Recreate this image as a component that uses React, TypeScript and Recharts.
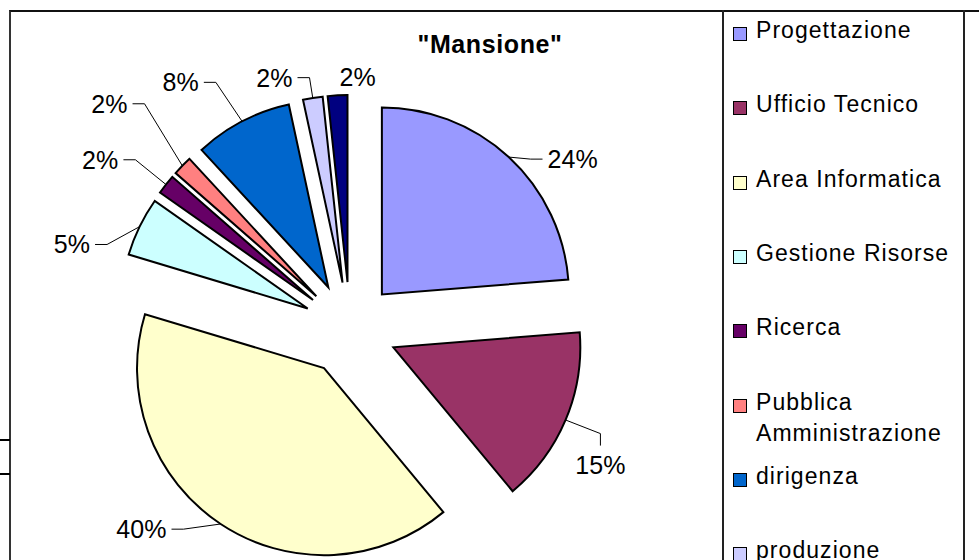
import React from 'react';
import { PieChart, Pie, Cell, Legend } from 'recharts';

// ---- data ----
const categories = [
  'Progettazione',
  'Ufficio Tecnico',
  'Area Informatica',
  'Gestione Risorse',
  'Ricerca',
  'Pubblica Amministrazione',
  'dirigenza',
  'produzione',
  'altro',
];
const counts = [14, 9, 24, 3, 1, 1, 5, 1, 1];
const percentLabels = ['24%', '15%', '40%', '5%', '2%', '2%', '8%', '2%', '2%'];
const colors = ['#9999FF', '#993366', '#FFFFCC', '#CCFFFF', '#660066', '#FF8080', '#0066CC', '#CCCCFF', '#000080'];
const title = '"Mansione"';

// ---- layout / style ----
const FONT = '"Liberation Sans", Arial, Helvetica, sans-serif';
const CX = 350;
const CY = 329;
const R = 187;
const EXPLODE = 47;
const LABEL_DIST = 240;
const LABEL_FONT = 25;
const LABEL_SPACING = 0.1;
const labelNudges: [number, number][] = [
  [28, 41], [-14, 24], [-50, -39], [-20, 41], [-24, 8], [-35, -25], [-37, 8], [-30, 32], [23, 35],
];

const total = counts.reduce((a, b) => a + b, 0);
let acc = 0;
const slices = counts.map((v, i) => {
  const start = 90 - (360 * acc) / total;
  acc += v;
  const end = 90 - (360 * acc) / total;
  return { name: categories[i], value: v, start, end, mid: (start + end) / 2, color: colors[i], label: percentLabels[i] };
});

const RAD = Math.PI / 180;

const textWidth = (s: string) => {
  let w = 0;
  for (const ch of s) w += ch === '%' ? 0.889 : 0.556;
  return w * LABEL_FONT + s.length * LABEL_SPACING;
};

const makeLabel = (i: number) => (props: any) => {
  const s = slices[i];
  const mid = typeof props.midAngle === 'number' ? props.midAngle : s.mid;
  const rad = mid * RAD;
  const cx = typeof props.cx === 'number' ? props.cx : CX + EXPLODE * Math.cos(rad);
  const cy = typeof props.cy === 'number' ? props.cy : CY - EXPLODE * Math.sin(rad);
  const r = typeof props.outerRadius === 'number' ? props.outerRadius : R;
  const ax = cx + r * Math.cos(rad);
  const ay = cy - r * Math.sin(rad);
  const [nx, ny] = labelNudges[i];
  const tx = cx + LABEL_DIST * Math.cos(rad) + nx;
  const ty = cy - LABEL_DIST * Math.sin(rad) + ny;
  const w = textWidth(s.label);
  const hh = 9;
  let pts: number[][];
  if (ax < tx - w / 2 - 12) {
    const px = tx - w / 2 - 5;
    pts = [[ax, ay], [px - 12, ty], [px, ty]];
  } else if (ax > tx + w / 2 + 12) {
    const px = tx + w / 2 + 5;
    pts = [[ax, ay], [px + 12, ty], [px, ty]];
  } else if (ay < ty) {
    const py = ty - hh - 10;
    pts = [[ax, ay], [tx, py - 12], [tx, py]];
  } else {
    const py = ty + hh + 6;
    pts = [[ax, ay], [tx, py + 12], [tx, py]];
  }
  const bx = Math.max(tx - w / 2 - ax, 0, ax - (tx + w / 2));
  const by = Math.max(ty - hh - ay, 0, ay - (ty + hh));
  const showLeader = Math.hypot(bx, by) > 15;
  return (
    <g>
      {showLeader && (
        <polyline
          points={pts.map((p) => p.join(',')).join(' ')}
          fill="none"
          stroke="#000"
          strokeWidth={1}
        />
      )}
      <text
        x={tx}
        y={ty + 9}
        textAnchor="middle"
        fill="#000"
        stroke="none"
        style={{ fontFamily: FONT, fontSize: LABEL_FONT, letterSpacing: LABEL_SPACING }}
      >
        {s.label}
      </text>
    </g>
  );
};

const ROW_H = 74.3;

const renderLegend = () => (
  <div style={{ position: 'relative', width: 240, height: 0, fontFamily: FONT }}>
    {slices.map((s, i) => (
      <div key={s.name} style={{ position: 'absolute', left: 0, top: 6 + ROW_H * i, width: 240 }}>
        <div
          style={{
            position: 'absolute',
            left: 10,
            top: 11,
            width: 12,
            height: 12,
            background: s.color,
            border: '1.5px solid #000',
          }}
        />
        <div
          style={{
            position: 'absolute',
            left: 33,
            top: -1,
            width: 206,
            fontSize: 23,
            lineHeight: '31px',
            letterSpacing: 1.05,
            color: '#000',
            whiteSpace: 'normal',
          }}
        >
          {s.name}
        </div>
      </div>
    ))}
  </div>
);

export default function App() {
  return (
    <div
      style={{
        position: 'fixed',
        left: 0,
        top: 0,
        width: 979,
        height: 560,
        overflow: 'hidden',
        background: '#fff',
        fontFamily: FONT,
      }}
    >
      {/* chart area border */}
      <div style={{ position: 'absolute', left: 9, top: 10, width: 1200, height: 900, borderTop: '2px solid #111', borderLeft: '2px solid #333' }} />
      {/* legend box sides */}
      <div style={{ position: 'absolute', left: 722, top: 10, width: 1.5, height: 600, background: '#222' }} />
      <div style={{ position: 'absolute', left: 963, top: 10, width: 1.5, height: 600, background: '#222' }} />
      {/* sheet lines on the left */}
      <div style={{ position: 'absolute', left: 0, top: 439, width: 10, height: 2, background: '#000' }} />
      <div style={{ position: 'absolute', left: 0, top: 473, width: 10, height: 2, background: '#000' }} />
      {/* title */}
      <div
        style={{
          position: 'absolute',
          left: 390,
          top: 32,
          width: 200,
          textAlign: 'center',
          fontWeight: 'bold',
          fontSize: 25,
          lineHeight: '25px',
          letterSpacing: 0.6,
          color: '#000',
        }}
      >
        {title}
      </div>
      <div style={{ position: 'absolute', left: 0, top: 0 }}>
        <PieChart width={979} height={700} margin={{ top: 0, right: 0, bottom: 0, left: 0 }}>
          {slices.map((s, i) => (
            <Pie
              key={s.name}
              data={[s]}
              dataKey="value"
              nameKey="name"
              cx={CX + EXPLODE * Math.cos(s.mid * RAD)}
              cy={CY - EXPLODE * Math.sin(s.mid * RAD)}
              startAngle={s.start}
              endAngle={s.end}
              innerRadius={0}
              outerRadius={R}
              stroke="#000"
              strokeWidth={2}
              isAnimationActive={false}
              label={makeLabel(i)}
              labelLine={false}
            >
              <Cell fill={s.color} stroke="#000" strokeWidth={2} />
            </Pie>
          ))}
          <Legend
            layout="vertical"
            align="right"
            verticalAlign="top"
            content={renderLegend}
            wrapperStyle={{ position: 'absolute', left: 723, top: 10, width: 240 }}
          />
        </PieChart>
      </div>
    </div>
  );
}
